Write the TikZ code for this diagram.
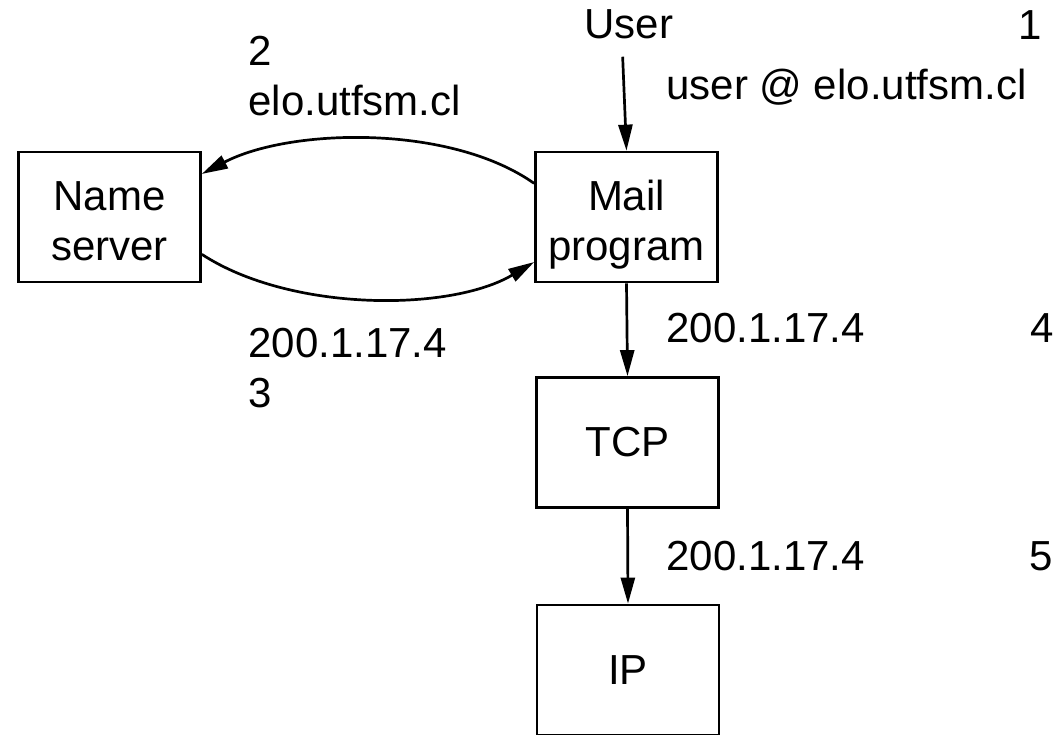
\documentclass[tikz,border=0pt]{standalone}
\usepackage{fontspec}
\setmainfont{Liberation Sans}
\usetikzlibrary{arrows.meta}
\begin{document}
\begin{tikzpicture}[>={Triangle[length=26pt,width=14pt]},x=1pt,y=-1pt,line width=2.7pt,
	font=\fontsize{42}{50}\selectfont,
	caja/.style={draw,minimum width=182pt,minimum height=130pt,align=center,inner sep=0pt},
	doble/.style={text height=88pt,text depth=0pt},
	etiq/.style={anchor=base west,align=left,inner sep=0pt}]
	\useasboundingbox (0,0) rectangle (1053,735);
	% cajas
	\node[caja,doble] (nombre) at (109.5,217) {Name\\server};
	\node[caja,doble] (correo) at (626.5,217) {Mail\\program};
	\node[caja] (tcp) at (627.5,442.5) {TCP};
	\node[caja] (ip) at (628,670) {IP};
	\node[anchor=base,inner sep=0pt] (usuario) at (629,39) {User};
	% flechas
	\draw[->,shorten <=16pt] ([xshift=-7pt]usuario.south) -- (correo.north);
	\draw[->] (correo.160) .. controls (450,124) and (290,128) .. (nombre.25);
	\draw[->] (nombre.-22) .. controls (290,312) and (450,312) .. (correo.206);
	\draw[->] (correo.south) -- (tcp.north);
	\draw[->] (tcp.south) -- (ip.north);
	% etiquetas
	\node[etiq] (paso1) at (1017,40) {1};
	\node[etiq] (dir) at (665,100) {user @ elo.utfsm.cl};
	\node[etiq] (paso2) at (247,116) {2\\elo.utfsm.cl};
	\node[etiq] (paso3) at (247,407) {200.1.17.4\\3};
	\node[etiq] (ipa) at (665,343) {200.1.17.4};
	\node[etiq] (paso4) at (1029,343) {4};
	\node[etiq] (ipb) at (665,570) {200.1.17.4};
	\node[etiq] (paso5) at (1028,570) {5};
\end{tikzpicture}
\end{document}
